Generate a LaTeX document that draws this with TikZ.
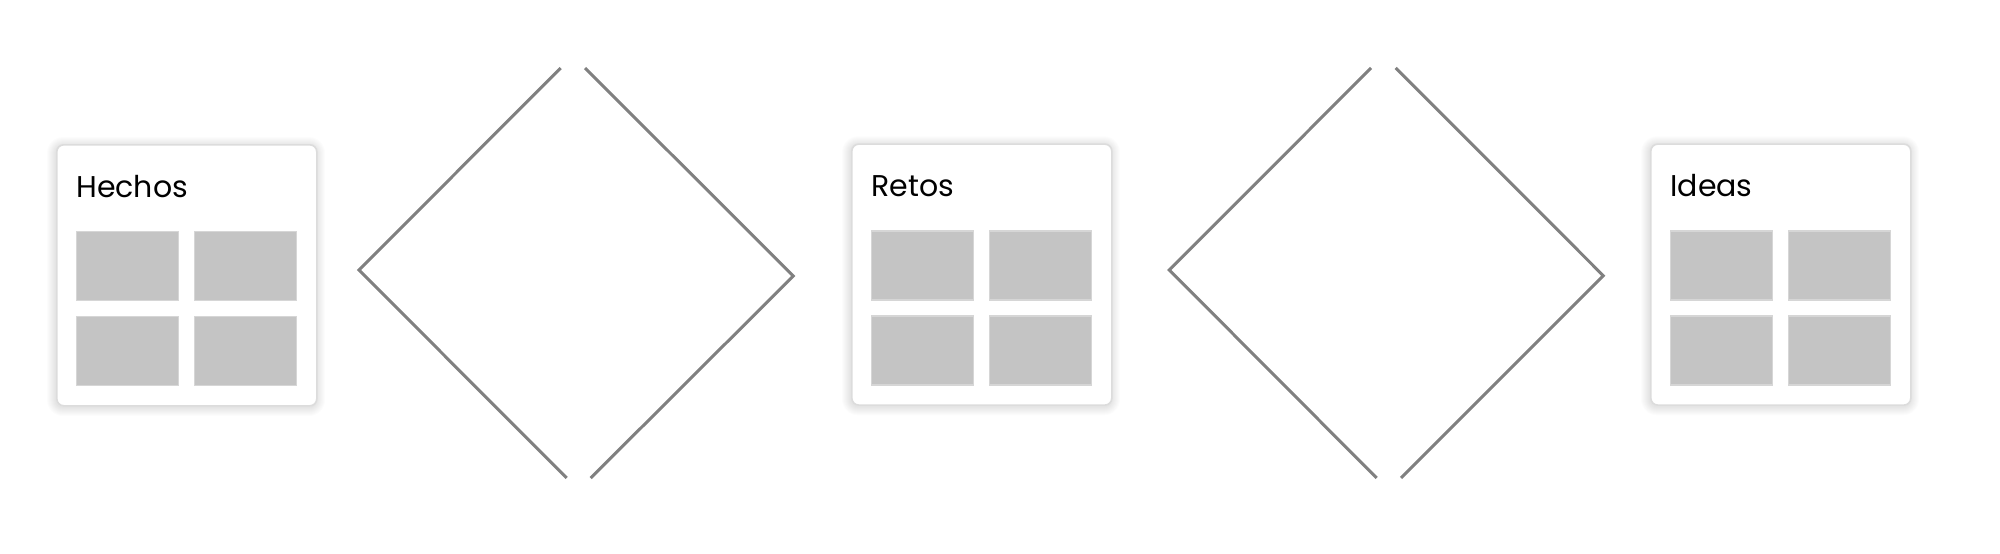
\documentclass[tikz,border=0pt]{standalone}
\usepackage{fontspec}
\setmainfont{Poppins}
\usetikzlibrary{calc}
\definecolor{linegray}{HTML}{808080}
\definecolor{boxgray}{HTML}{C4C4C4}
\definecolor{tileedge}{HTML}{D6D6D6}
\definecolor{cardedge}{HTML}{DCDCDC}
\tikzset{
  card/.style={draw=cardedge, line width=0.8pt, fill=white, rounded corners=3.5pt,
    minimum width=130pt, minimum height=130.5pt, inner sep=0pt},
  tile/.style={fill=boxgray, draw=tileedge, line width=0.6pt, anchor=north west,
    minimum width=51pt, minimum height=34.5pt, inner sep=0pt},
  title/.style={anchor=base west, inner sep=0pt, font=\fontsize{15}{18}\selectfont, text=black},
  chev/.style={draw=linegray, line width=1.5pt, line join=miter}
}
\newcommand{\mycard}[4]{%
  \foreach \r in {1,2,...,9}{
    \fill[black, fill opacity=0.010, rounded corners=3.5pt+0.5pt*\r]
      ($(#2,#3)+(-\r,-\r+2)$) rectangle ($(#2,#3)+(260+\r,261+\r+2)$);
  }
  \node[card, anchor=north west] (#1) at (#2,#3) {};
  \node[title] (#1t) at ($(#1.north west)+(20,53)$) {#4};
  \node[tile] (#1a) at ($(#1.north west)+(20,87)$) {};
  \node[tile] (#1b) at ($(#1.north west)+(138,87)$) {};
  \node[tile] (#1c) at ($(#1.north west)+(20,172)$) {};
  \node[tile] (#1d) at ($(#1.north west)+(138,172)$) {};
}
\begin{document}
\begin{tikzpicture}[x=0.5pt, y=-0.5pt]
  \useasboundingbox[fill=white] (0,0) rectangle (2000,553);
  \mycard{hechos}{56}{144}{Hechos}
  \mycard{retos}{851}{143.3}{Retos}
  \mycard{ideas}{1650}{143.3}{Ideas}
  % first diamond
  \coordinate (d1tl) at (560.7,68);
  \coordinate (d1l)  at (359,270);
  \coordinate (d1bl) at (566.7,478);
  \coordinate (d1tr) at (585,68);
  \coordinate (d1r)  at (793.3,276);
  \coordinate (d1br) at (590.7,478);
  \draw[chev] (d1tl) -- (d1l) -- (d1bl);
  \draw[chev] (d1tr) -- (d1r) -- (d1br);
  % second diamond
  \coordinate (d2tl) at (1371,68);
  \coordinate (d2l)  at (1169.3,270);
  \coordinate (d2bl) at (1376.7,478);
  \coordinate (d2tr) at (1395.7,68);
  \coordinate (d2r)  at (1603.3,275.7);
  \coordinate (d2br) at (1401,478);
  \draw[chev] (d2tl) -- (d2l) -- (d2bl);
  \draw[chev] (d2tr) -- (d2r) -- (d2br);
\end{tikzpicture}
\end{document}
